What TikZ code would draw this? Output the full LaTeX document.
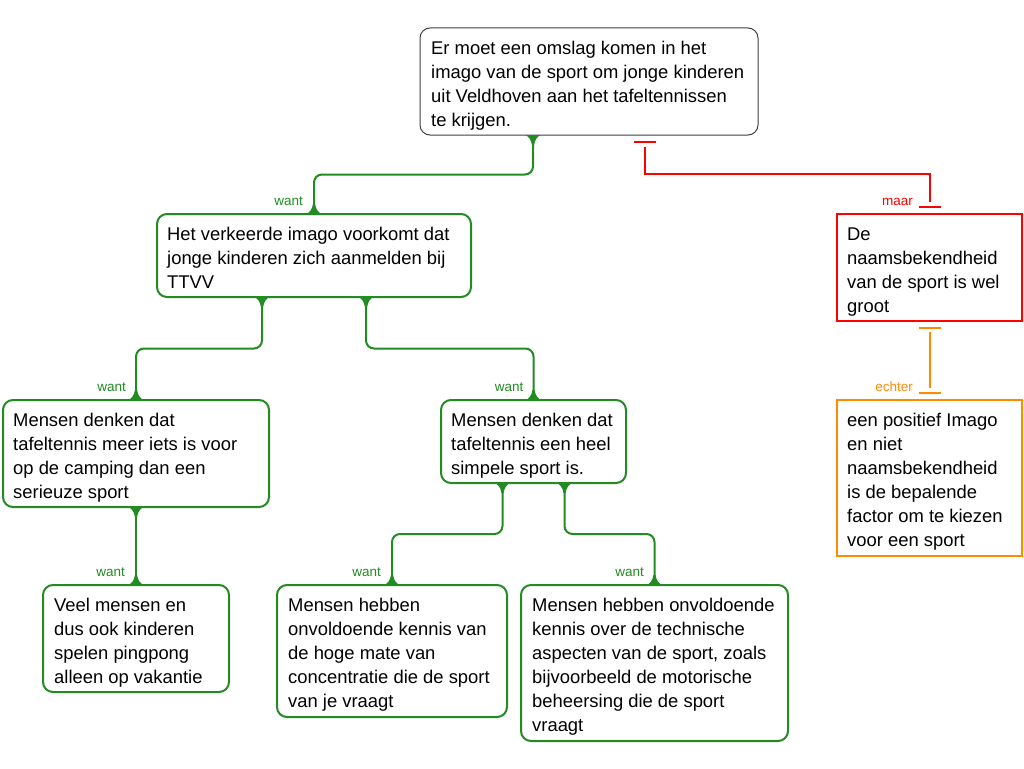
\documentclass[tikz,border=0pt]{standalone}
\usepackage{fontspec}
\setmainfont{Liberation Sans}
\usetikzlibrary{calc}
\definecolor{gr}{RGB}{34,139,34}
\definecolor{rd}{RGB}{255,0,0}
\definecolor{og}{RGB}{255,140,0}
\definecolor{bd}{RGB}{64,64,64}
\newcommand\myflare[2]{\fill[gr,shift={#1},yscale=#2] (-8,0) .. controls (-5,0.8) and (-2,4) .. (-1,10) -- (1,10) .. controls (2,4) and (5,0.8) .. (8,0) -- cycle;}
\begin{document}
\begin{tikzpicture}[x=1pt,y=-1pt,
  boxbase/.style={anchor=north west,inner sep=0pt,outer sep=0pt,fill=white},
  boxg/.style={boxbase,draw=gr,line width=2pt,rounded corners=10pt},
  boxk/.style={boxbase,draw=bd,line width=1pt,rounded corners=10pt},
  boxr/.style={boxbase,draw=rd,line width=2pt},
  boxo/.style={boxbase,draw=og,line width=2pt},
  txt/.style={anchor=north west,align=left,inner sep=0pt,font=\fontsize{18.4}{24}\selectfont},
  lbl/.style={anchor=base east,inner sep=0pt,font=\fontsize{13.5}{15}\selectfont},
  gline/.style={draw=gr,line width=2pt,rounded corners=8pt},
  rline/.style={draw=rd,line width=2pt},
  oline/.style={draw=og,line width=2pt},
]
\fill[white] (0,0) rectangle (1024,768);
\useasboundingbox (0,0) rectangle (1024,768);

% boxes
\node[boxk,minimum width=338pt,minimum height=107pt] (top) at (420,28) {};
\node[boxg,minimum width=314pt,minimum height=83pt] (b1) at (157,214) {};
\node[boxg,minimum width=266pt,minimum height=107pt] (L) at (3,400) {};
\node[boxg,minimum width=185pt,minimum height=83pt] (M) at (441,400) {};
\node[boxg,minimum width=186pt,minimum height=107pt] (LL) at (43,585) {};
\node[boxg,minimum width=230pt,minimum height=132pt] (MA) at (277,585) {};
\node[boxg,minimum width=267pt,minimum height=156pt] (MB) at (521,585) {};
\node[boxr,minimum width=185pt,minimum height=107pt] (red) at (837,214) {};
\node[boxo,minimum width=185pt,minimum height=156pt] (orng) at (837,400) {};

% texts
\node[txt] (ttop) at ($(top.north west)+(11,11.5)$) {\rule{0pt}{15pt}Er moet een omslag komen in het\\imago van de sport om jonge kinderen\\uit Veldhoven aan het tafeltennissen\\te krijgen.};
\node[txt] (tb1) at ($(b1.north west)+(10,11.5)$) {\rule{0pt}{15pt}Het verkeerde imago voorkomt dat\\jonge kinderen zich aanmelden bij\\TTVV};
\node[txt] (tL) at ($(L.north west)+(10,11.5)$) {\rule{0pt}{15pt}Mensen denken dat\\tafeltennis meer iets is voor\\op de camping dan een\\serieuze sport};
\node[txt] (tM) at ($(M.north west)+(10,11.5)$) {\rule{0pt}{15pt}Mensen denken dat\\tafeltennis een heel\\simpele sport is.};
\node[txt] (tLL) at ($(LL.north west)+(11,11.5)$) {\rule{0pt}{15pt}Veel mensen en\\dus ook kinderen\\spelen pingpong\\alleen op vakantie};
\node[txt] (tMA) at ($(MA.north west)+(11,11.5)$) {\rule{0pt}{15pt}Mensen hebben\\onvoldoende kennis van\\de hoge mate van\\concentratie die de sport\\van je vraagt};
\node[txt] (tMB) at ($(MB.north west)+(11,11.5)$) {\rule{0pt}{15pt}Mensen hebben onvoldoende\\kennis over de technische\\aspecten van de sport, zoals\\bijvoorbeeld de motorische\\beheersing die de sport\\vraagt};
\node[txt] (tred) at ($(red.north west)+(10,11.5)$) {\rule{0pt}{15pt}De\\naamsbekendheid\\van de sport is wel\\groot};
\node[txt] (torng) at ($(orng.north west)+(10,11.5)$) {\rule{0pt}{15pt}een positief Imago\\en niet\\naamsbekendheid\\is de bepalende\\factor om te kiezen\\voor een sport};

% green connectors
\draw[gline] ($(top.south)+(-56,0)$) |- ($(top.south)!0.5!(b1.north)$) -| (b1.north);
\draw[gline] ($(b1.south)+(-52,0)$) |- ($(b1.south)!0.5!(L.north)$) -| (L.north);
\draw[gline] ($(b1.south)+(52,0)$) |- ($(b1.south)!0.5!(M.north)$) -| (M.north);
\draw[gline] (L.south) -- (LL.north);
\draw[gline] ($(M.south)+(-31,0)$) |- ($(M.south)!0.5!(MA.north)$) -| (MA.north);
\draw[gline] ($(M.south)+(31,0)$) |- ($(M.south)!0.5!(MB.north)$) -| (MB.north);

% flares (1 = downward from a box bottom, -1 = upward from a box top)
\myflare{($(top.south)+(-56,0)$)}{1}
\myflare{(b1.north)}{-1}
\myflare{($(b1.south)+(-52,0)$)}{1}
\myflare{($(b1.south)+(52,0)$)}{1}
\myflare{(L.north)}{-1}
\myflare{(M.north)}{-1}
\myflare{(L.south)}{1}
\myflare{(LL.north)}{-1}
\myflare{($(M.south)+(-31,0)$)}{1}
\myflare{($(M.south)+(31,0)$)}{1}
\myflare{(MA.north)}{-1}
\myflare{(MB.north)}{-1}

% red connector
\draw[rline] ($(top.south)+(56,12)$) |- ($(red.north)+(0,-40)$) -- ($(red.north)+(0,-12)$);
\draw[rline,line width=2.5pt] ($(top.south)+(45,7)$) -- ($(top.south)+(67,7)$);
\draw[rline,line width=2.5pt] ($(red.north)+(-11,-7)$) -- ($(red.north)+(11,-7)$);

% orange connector
\draw[oline] ($(red.south)+(0,11)$) -- ($(orng.north)+(0,-12)$);
\draw[oline,line width=2.5pt] ($(red.south)+(-11,7)$) -- ($(red.south)+(11,7)$);
\draw[oline,line width=2.5pt] ($(orng.north)+(-11,-7)$) -- ($(orng.north)+(11,-7)$);

% labels
\node[lbl,gr] (w1) at ($(b1.north)+(-11,-9)$) {want};
\node[lbl,gr] (w2) at ($(L.north)+(-10,-9)$) {want};
\node[lbl,gr] (w3) at ($(M.north)+(-10,-9)$) {want};
\node[lbl,gr] (w4) at ($(LL.north)+(-11,-9)$) {want};
\node[lbl,gr] (w5) at ($(MA.north)+(-11,-9)$) {want};
\node[lbl,gr] (w6) at ($(MB.north)+(-10.5,-9)$) {want};
\node[lbl,rd] (wmaar) at ($(red.north)+(-16.5,-9)$) {maar};
\node[lbl,og] (wechter) at ($(orng.north)+(-16.5,-9)$) {echter};
\end{tikzpicture}
\end{document}
